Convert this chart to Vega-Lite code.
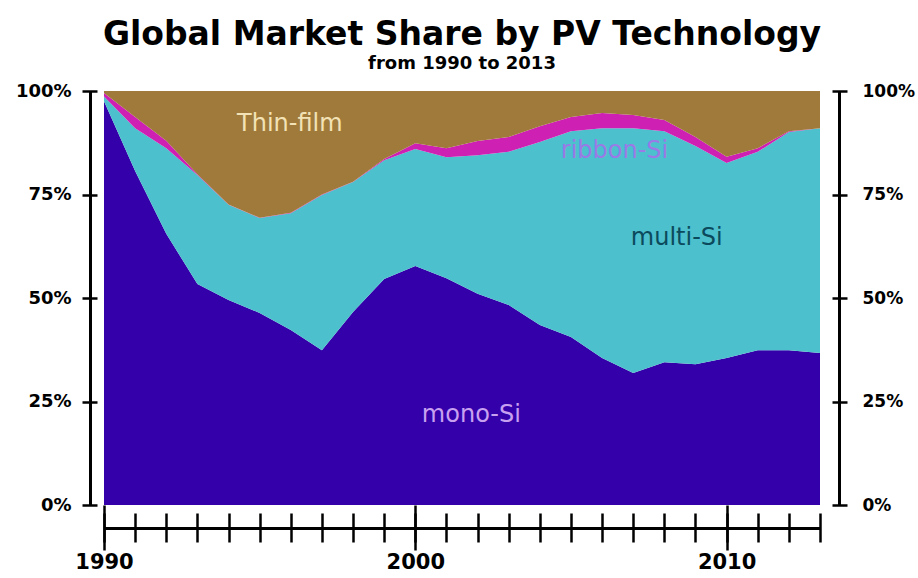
{
  "$schema": "https://vega.github.io/schema/vega-lite/v6.json",
  "width": 716,
  "height": 414,
  "autosize": "none",
  "padding": {"left": 104, "top": 91, "right": 98, "bottom": 73},
  "background": "white",
  "title": {
    "text": "Global Market Share by PV Technology",
    "subtitle": "from 1990 to 2013",
    "font": "DejaVu Sans",
    "fontWeight": "bold",
    "fontSize": 33,
    "color": "black",
    "subtitleFont": "DejaVu Sans",
    "subtitleFontWeight": "bold",
    "subtitleFontSize": 18,
    "subtitleColor": "black",
    "subtitlePadding": 3,
    "anchor": "middle",
    "offset": 9
  },
  "datasets": {
    "shares": [
      {"year": 1990, "mono": 97.5, "multi": 1.2, "ribbon": 0.8, "thin": 0.5},
      {"year": 1991, "mono": 80.7, "multi": 10.3, "ribbon": 2.7, "thin": 6.3},
      {"year": 1992, "mono": 65.5, "multi": 20.7, "ribbon": 1.8, "thin": 12.0},
      {"year": 1993, "mono": 53.4, "multi": 26.3, "ribbon": 0.2, "thin": 20.1},
      {"year": 1994, "mono": 49.5, "multi": 23.0, "ribbon": 0.1, "thin": 27.4},
      {"year": 1995, "mono": 46.4, "multi": 22.9, "ribbon": 0.1, "thin": 30.6},
      {"year": 1996, "mono": 42.3, "multi": 28.2, "ribbon": 0.1, "thin": 29.4},
      {"year": 1997, "mono": 37.4, "multi": 37.5, "ribbon": 0.1, "thin": 25.0},
      {"year": 1998, "mono": 46.6, "multi": 31.4, "ribbon": 0.1, "thin": 21.9},
      {"year": 1999, "mono": 54.6, "multi": 28.7, "ribbon": 0.3, "thin": 16.4},
      {"year": 2000, "mono": 57.7, "multi": 28.3, "ribbon": 1.4, "thin": 12.6},
      {"year": 2001, "mono": 54.8, "multi": 29.2, "ribbon": 2.2, "thin": 13.8},
      {"year": 2002, "mono": 51.0, "multi": 33.5, "ribbon": 3.4, "thin": 12.1},
      {"year": 2003, "mono": 48.3, "multi": 37.0, "ribbon": 3.6, "thin": 11.1},
      {"year": 2004, "mono": 43.5, "multi": 44.2, "ribbon": 3.8, "thin": 8.5},
      {"year": 2005, "mono": 40.6, "multi": 49.7, "ribbon": 3.4, "thin": 6.3},
      {"year": 2006, "mono": 35.5, "multi": 55.5, "ribbon": 3.7, "thin": 5.3},
      {"year": 2007, "mono": 31.9, "multi": 59.1, "ribbon": 3.2, "thin": 5.8},
      {"year": 2008, "mono": 34.5, "multi": 55.8, "ribbon": 2.7, "thin": 7.0},
      {"year": 2009, "mono": 34.0, "multi": 52.7, "ribbon": 2.2, "thin": 11.1},
      {"year": 2010, "mono": 35.5, "multi": 47.1, "ribbon": 1.5, "thin": 15.9},
      {"year": 2011, "mono": 37.4, "multi": 47.9, "ribbon": 0.9, "thin": 13.8},
      {"year": 2012, "mono": 37.4, "multi": 52.7, "ribbon": 0.2, "thin": 9.7},
      {"year": 2013, "mono": 36.7, "multi": 54.3, "ribbon": 0.0, "thin": 9.0}
    ],
    "labels": [
      {"year": 1995.97, "value": 92.0, "label": "Thin-film"},
      {"year": 2006.4, "value": 85.5, "label": "ribbon-Si"},
      {"year": 2008.4, "value": 64.5, "label": "multi-Si"},
      {"year": 2001.8, "value": 21.7, "label": "mono-Si"}
    ]
  },
  "layer": [
    {
      "data": {"name": "shares"},
      "transform": [{"fold": ["mono", "multi", "ribbon", "thin"], "as": ["tech", "share"]}],
      "mark": {"type": "area", "interpolate": "linear"},
      "encoding": {
        "x": {
          "field": "year", "type": "quantitative",
          "scale": {"domain": [1990, 2013], "nice": false, "zero": false},
          "axis": {"orient": "bottom", "offset": 8, "tickSize": 29, "tickWidth": 2.5, "domain": false, "labels": false,
                   "values": [1990,1991,1992,1993,1994,1995,1996,1997,1998,1999,2000,2001,2002,2003,2004,2005,2006,2007,2008,2009,2010,2011,2012,2013]}
        },
        "y": {
          "field": "share", "type": "quantitative", "stack": "zero",
          "scale": {"domain": [0, 100], "nice": false},
          "axis": {"orient": "left", "offset": 7, "tickSize": 15, "tickWidth": 2.5, "domain": false, "labelPadding": 11,
                   "values": [0, 25, 50, 75, 100], "labelExpr": "datum.value + '%'", "labelFlush": false}
        },
        "order": {"field": "tech", "sort": "ascending"},
        "color": {
          "field": "tech", "type": "nominal", "legend": null,
          "scale": {"domain": ["mono", "multi", "ribbon", "thin"], "range": ["#3300aa", "#4dc0cd", "#cf20b4", "#a07a3a"]}
        }
      }
    },
    {
      "data": {"name": "labels"},
      "mark": {"type": "text", "font": "DejaVu Sans", "fontSize": 24, "align": "center", "baseline": "middle"},
      "encoding": {
        "x": {
          "field": "year", "type": "quantitative",
          "scale": {"domain": [1990, 2013], "nice": false, "zero": false},
          "axis": {"orient": "bottom", "offset": 0, "tickSize": 45, "tickWidth": 2.5, "domain": false, "labelPadding": 1,
                   "values": [1990, 2000, 2010], "format": "d", "labelFontSize": 21, "labelFlush": false}
        },
        "y": {
          "field": "value", "type": "quantitative",
          "scale": {"domain": [0, 100], "nice": false},
          "axis": {"orient": "right", "offset": 12, "tickSize": 15, "tickWidth": 2.5, "domain": false, "labelPadding": 15,
                   "values": [0, 25, 50, 75, 100], "labelExpr": "datum.value + '%'", "labelFlush": false, "labelFontSize": 17}
        },
        "text": {"field": "label"},
        "color": {
          "field": "label", "type": "nominal", "legend": null,
          "scale": {"domain": ["Thin-film", "ribbon-Si", "multi-Si", "mono-Si"], "range": ["#f2e2b6", "#9a7ae6", "#0b4a5c", "#c8a0f0"]}
        }
      }
    },
    {
      "data": {"name": "labels"},
      "mark": {"type": "text", "opacity": 0},
      "encoding": {
        "x": {
          "field": "year", "type": "quantitative",
          "scale": {"domain": [1990, 2013], "nice": false, "zero": false},
          "axis": {"orient": "bottom", "offset": 23, "ticks": false, "labels": false, "domain": true, "domainWidth": 3}
        },
        "y": {
          "field": "value", "type": "quantitative",
          "scale": {"domain": [0, 100], "nice": false},
          "axis": {"orient": "left", "offset": 14, "ticks": false, "labels": false, "domain": true, "domainWidth": 3}
        },
        "text": {"field": "label"}
      }
    },
    {
      "data": {"name": "labels"},
      "mark": {"type": "text", "opacity": 0},
      "encoding": {
        "x": {
          "field": "year", "type": "quantitative",
          "scale": {"domain": [1990, 2013], "nice": false, "zero": false},
          "axis": null
        },
        "y": {
          "field": "value", "type": "quantitative",
          "scale": {"domain": [0, 100], "nice": false},
          "axis": {"orient": "right", "offset": 19, "ticks": false, "labels": false, "domain": true, "domainWidth": 3}
        },
        "text": {"field": "label"}
      }
    }
  ],
  "resolve": {
    "scale": {"color": "independent"},
    "axis": {"x": "independent", "y": "independent"}
  },
  "config": {
    "view": {"stroke": null},
    "axis": {
      "grid": false,
      "title": null,
      "domainColor": "black",
      "tickColor": "black",
      "labelColor": "black",
      "labelFont": "DejaVu Sans",
      "labelFontWeight": "bold",
      "labelFontSize": 18
    }
  }
}
